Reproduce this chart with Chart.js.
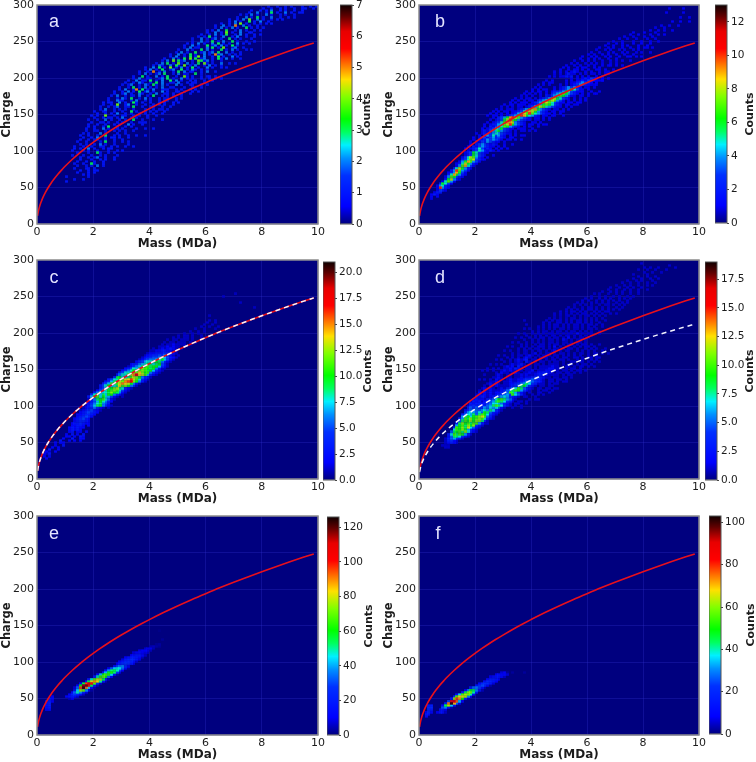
<!DOCTYPE html>
<html>
<head>
<meta charset="utf-8">
<script src="https://cdn.jsdelivr.net/npm/chart.js@4/dist/chart.umd.min.js"></script>
<style>
html, body { margin: 0; padding: 0; background: #fff; }
#page { position: relative; width: 756px; height: 762px; overflow: hidden; }
canvas { position: absolute; }
</style>
</head>
<body>
<div id="page"></div>
<script>
// axis ticks
const massTicks = [0, 2, 4, 6, 8, 10]
const chargeTicks = [0, 50, 100, 150, 200, 250, 300]

// reference curves
const curveMass = [0.02, 0.05, 0.1, 0.15, 0.2, 0.3, 0.4, 0.5, 0.6, 0.75, 0.9, 1, 1.25, 1.5, 1.75, 2, 2.25, 2.5, 2.75, 3, 3.25, 3.5, 3.75, 4, 4.25, 4.5, 4.75, 5, 5.5, 6, 6.5, 7, 7.5, 8, 8.5, 9, 9.5, 9.85]
const redCharge = [11.2, 17.7, 25, 30.6, 35.4, 43.3, 50, 55.9, 61.2, 68.5, 75, 79.1, 88.4, 96.8, 104.6, 111.8, 118.6, 125, 131.1, 136.9, 142.5, 147.9, 153.1, 158.1, 163, 167.7, 172.3, 176.8, 185.4, 193.6, 201.6, 209.2, 216.5, 223.6, 230.5, 237.2, 243.7, 248.1]
const dashedChargeD = [9.5, 15, 21.4, 26.2, 30.3, 37, 42.8, 47.8, 52.3, 58.6, 64.1, 67.6, 75.6, 82.8, 89.4, 95.6, 101.4, 106.9, 112.1, 117, 121.8, 126.5, 130.9, 135.2, 139.4, 143.4, 147.3, 151.2, 158.5, 165.5, 172.4, 178.9, 185.1, 191.2, 197.1, 202.8, 208.4, 212.1]

// colour bars
const maxA = 7, maxB = 13, maxC = 21, maxD = 19, maxE = 126, maxF = 103
const barTicksA = [0, 1, 2, 3, 4, 5, 6, 7]
const barTicksB = [0, 2, 4, 6, 8, 10, 12]
const barTicksC = [0, 2.5, 5, 7.5, 10, 12.5, 15, 17.5, 20]
const barTicksD = [0, 2.5, 5, 7.5, 10, 12.5, 15, 17.5]
const barTicksE = [0, 20, 40, 60, 80, 100, 120]
const barTicksF = [0, 20, 40, 60, 80, 100]

// histogram rows: [charge bin, first mass bin (0.1 MDa), counts]. strings are base 36
const countsA = [
[57,10,'1'],[60,13,'1001'],[63,10,'1000000010'],[66,16,'101'],[69,14,'10001010'],[72,15,'1001011'],[75,13,'1000110100'],[78,14,'10010102010'],
[81,13,'100100310010'],[84,14,'1001001001'],[87,15,'1000100101001'],[90,14,'0100101200100100'],[93,12,'1000100100101000100'],[96,13,'01000100310010100'],
[99,12,'1000101001000100101'],[102,13,'1010020100101100'],[105,13,'100100100110010100100'],[108,14,'01010010201001000010'],[111,14,'1001000010300100101'],
[114,15,'100101100100100100'],[117,15,'01001020010110100100'],[120,15,'100100100300101001001'],[123,16,'101000201000100100'],[126,16,'0100110010010101001'],
[129,17,'100100201001010000100'],[132,17,'01010010300100101'],[135,18,'100100100101002010010'],[138,18,'01001101001010010001'],[141,18,'1001002010010100300100'],
[144,19,'010010110102001010001'],[147,19,'10100400100110010100'],[150,20,'01001010200101001'],[153,20,'1001100100100301001010'],[156,21,'01020010101001000100101'],
[159,22,'1001012001103001001'],[162,22,'010010400120010010010'],[165,23,'10110020100310100100'],[168,24,'0100211001020010100101'],[171,25,'100102103001020100101'],
[174,26,'1020010110200103001010'],[177,26,'0100120100210010200110100'],[180,27,'10010201030120100201001'],[183,28,'0102001503010200111001'],[186,29,'10010301020101020011000100'],
[189,30,'1012001021031020100201001'],[192,30,'01001021001030200110200101'],[195,32,'100201103010200302010010100'],[198,33,'01020011001203010020101'],
[201,34,'100301002010300100410100101'],[204,35,'01020101203001020110030100'],[207,36,'1001050102001030201100102001'],[210,37,'01020103001200301021010100'],
[213,38,'100203010401020103010020100101'],[216,40,'01021002031040102001020101'],[219,42,'10203010410201030410100200101'],[222,43,'0102040312001043120100100'],
[225,45,'100201030403012001031020100100'],[228,46,'01020010301402001030100201'],[231,47,'1002010301002010512001010100'],[234,48,'0102010030120120300201001'],
[237,50,'100201003020100301020100101'],[240,51,'01020110020301040012001'],[243,52,'100201003012020103010'],[246,53,'10102010020301010020101'],
[249,54,'0100201030102003010010010'],[252,55,'1002010120100301010001'],[255,56,'0101030100200102001001'],[258,58,'1001020103001020100101'],
[261,59,'010020104010020011'],[264,60,'10102003001020100101'],[267,62,'0102010201003010101'],[270,63,'100201050020100100'],[273,65,'1001020401001010101'],
[276,67,'01020100301020010'],[279,68,'10010204002010010101'],[282,70,'0100201030100200100101'],[285,72,'10102010020100101001'],[288,74,'0100200103010020100110'],
[291,76,'1001010200101001001'],[294,79,'01001001010010011001'],[297,82,'100100101000100101'],
[105,34,'1'],[120,38,'1'],[129,38,'1001'],[138,36,'101'],[141,41,'1001'],[147,39,'1001'],[150,37,'01001001'],[153,42,'1001'],[156,44,'101'],[159,41,'1001001'],
[162,43,'101001'],[165,43,'10100101'],[168,46,'1001'],[171,46,'100101'],[174,48,'10010'],[177,51,'1001'],[180,50,'10100101'],[183,50,'0100101'],[186,55,'1001'],
[189,55,'100101'],[192,56,'1001'],[195,59,'1001'],[198,56,'0010010101'],[201,61,'101']
]
const countsB = [
[33,4,'1'],[36,4,'101'],[39,4,'1210'],[42,5,'1220'],[45,5,'013210'],[48,5,'01a4210'],[51,6,'14521'],[54,7,'26531'],[57,8,'15741'],
[60,8,'02684210'],[63,9,'14763210'],[66,10,'25964210'],[69,10,'12496310'],[72,11,'24a7431'],[75,12,'2586421'],[78,12,'01479531'],[81,13,'12586421'],
[84,14,'14697431'],[87,14,'0235783211'],[90,15,'1358742101'],[93,15,'012365321001'],[96,16,'1236532110'],[99,16,'0102354212101'],[102,16,'1012353121010'],
[105,17,'10213432110101'],[108,17,'0102343212100'],[111,18,'10213243211010'],[114,18,'01021243432101'],[117,19,'101231342321011'],[120,20,'01024353421010'],
[123,20,'101213454321101'],[126,21,'0121345643210101'],[129,22,'10123546321101'],[132,22,'01021345764321010'],[135,23,'101224578a6432101'],[138,24,'1012357998432100'],
[141,25,'1012368a7643211'],[144,25,'01023469a87432101'],[147,29,'1012346a96542101'],[150,30,'010124587a7543210'],[153,31,'10112357986432101'],[156,33,'1012346896432101'],
[159,35,'01012357875432110'],[162,37,'10112346765321010'],[165,38,'1012347875321101'],[168,40,'102345787431010'],[171,41,'1012346865321010'],[174,43,'102134576431101'],
[177,44,'0102345764321010'],[180,45,'1012234653211'],[183,47,'01012346531101'],[186,48,'1012343421010'],[189,50,'10101234321101'],[192,51,'0101123432101'],
[195,52,'1010112132110100'],[198,54,'101012132101010'],[201,46,'10101121201010'],[204,47,'010101211010101'],[207,48,'1010101210010100'],[210,50,'10010110101001'],
[213,51,'101001011001010'],[216,52,'1001010010100101'],[219,54,'10100101010100101'],[222,55,'100101010010010'],[225,57,'1001010100100100'],[228,58,'10010100101001001'],
[231,60,'101001010010010010'],[234,61,'1001001010010100'],[237,63,'100101001010010100'],[240,64,'10010100100100101'],[243,66,'100100101000100100'],[246,67,'1001010001001001'],
[249,69,'10010001001001001'],[252,71,'100100100010010'],[255,73,'10010001001'],[258,75,'1001000100101'],[261,76,'10001000100'],[264,82,'100101001'],[267,84,'100100'],[270,86,'10010010'],
[276,90,'1001001'],[282,93,'1001'],[288,88,'100000100'],[294,89,'10000100'],
[102,29,'101'],[108,30,'1001'],[114,32,'10101'],[120,34,'1011'],[126,37,'10101'],[129,36,'11001'],[132,39,'1001'],[135,40,'101011'],[138,40,'1101'],[141,39,'10110101'],
[144,42,'10101'],[147,45,'1011001'],[150,46,'10101'],[153,48,'1011'],[156,49,'10101'],[159,52,'1010'],[162,53,'10110'],[165,54,'1011'],[168,55,'10101'],[171,57,'1010'],
[174,58,'101'],[177,60,'1011'],[180,58,'1001001'],[186,53,'10101001010'],[189,55,'10100101'],[192,55,'0101001010'],[195,58,'10101011'],[198,60,'101001'],[201,60,'1001010'],
[204,62,'101011'],[207,64,'1011'],[210,64,'101001'],[216,68,'10101'],[222,70,'101001'],[228,75,'10101'],[234,77,'101001'],[240,81,'1010'],
[147,24,'101101'],[150,25,'1010101'],[153,26,'10101'],[156,27,'101011'],[159,29,'1010101'],[162,30,'1011011'],[165,32,'101011'],[168,33,'1010101'],[171,34,'101011'],
[174,36,'10101'],[177,37,'1010101'],[180,38,'101011'],[183,40,'101011'],[186,41,'1010'],[189,42,'10101'],[192,44,'1011'],[195,45,'101']
]
const countsC = [
[27,3,'2'],[30,2,'202'],[33,2,'2130'],[36,3,'2102'],[39,4,'3002'],[42,5,'202'],[45,6,'2003'],[48,6,'2022'],[51,8,'30020202'],[54,9,'20030022'],[57,9,'02202032'],
[60,10,'2030203'],[63,11,'2302202'],[66,11,'23232'],[69,11,'2323220'],[72,12,'2233202'],[75,12,'2334322'],[78,13,'2344320'],[81,13,'234532'],[84,14,'2345420'],
[87,14,'2234432'],[90,15,'2345432'],[93,15,'123453210'],[96,16,'1234642101'],[99,17,'13579a6421'],[102,17,'124689653'],[105,18,'2357a8642'],[108,18,'1469ab8621'],
[111,18,'37ab8a8752101'],[114,19,'48a797aa6421'],[117,20,'368789ca9621'],[120,21,'2568abcb8521'],[123,22,'3579acd98421'],[126,22,'358a789ebca641'],
[129,23,'357b9bdfeda6310'],[132,24,'2479bdcfghca631'],[135,25,'35889bdegdb8421'],[138,27,'49a879bdca6431'],[141,28,'3688bcfhedb7421'],[144,29,'35889bcecab6421'],
[147,30,'2468a9bcb9a7421'],[150,31,'235879cba9a6311'],[153,32,'124679ab9aa7421'],[156,33,'2346789989a531'],[159,35,'2457889a96421'],[162,36,'12456678a7521'],
[165,37,'1234556875321'],[168,38,'1234454642101'],[171,39,'12233344321'],[174,40,'1122332211'],[177,41,'10121232101'],[180,43,'1112121101'],[183,44,'10112111101'],
[186,45,'101101110101'],[189,46,'1011011101'],[192,48,'10101101001'],[195,50,'101101001'],[198,52,'10010100'],[201,54,'100101'],[204,56,'10010001'],[207,58,'1001001'],
[210,59,'1001'],[213,60,'1001'],[216,60,'0101'],[222,61,'1'],[252,70,'1'],[249,66,'1'],[240,72,'1'],[234,77,'1']
]
const countsD = [
[42,9,'11'],[45,8,'1110'],[48,9,'12321'],[51,9,'134210'],[54,9,'1356431'],[57,10,'25887421'],[60,10,'37a8a96310'],[63,11,'589a8b7421'],[66,12,'7a9b96421'],
[69,12,'3a9b8c75210'],[72,13,'69a8b9b4210'],[75,13,'38b9a8aa6311'],[78,14,'58a9b9bb8410'],[81,14,'36a8b9aba74210'],[84,15,'68979abca5310'],[87,15,'3576858a97421'],
[90,16,'4676575985321'],[93,16,'245655676874210'],[96,17,'35454465767521'],[99,17,'1343423568a87421'],[102,18,'32332345776532101'],[105,18,'1323123568a8743101'],
[108,19,'2322134579a86521'],[111,20,'323212345676432101'],[114,20,'1212121234564a75310'],[117,21,'21212122345a8642101'],[120,21,'1021211123568a964210'],
[123,22,'1212101213457a8532101'],[126,23,'10212111123458964210'],[129,24,'1212101122345687431'],[132,24,'0112101121123456543210'],[135,25,'10211012112234454321'],
[138,26,'11210110112122344321101'],[141,26,'0121011011212112333211'],[144,27,'10211012101121122332101'],[147,28,'012121101011201112211101'],[150,28,'10112132101101011122111'],
[153,29,'012120310110101111211001'],[156,29,'1001212310101101011110101'],[159,30,'1010121031010110101101001'],[162,31,'01012123011010101101101'],[165,31,'1010101210101110101011001'],
[168,32,'01011012101011101101010'],[171,33,'1010110120101101011010101'],[174,34,'01011010110101201011001'],[177,35,'101010110101011010110100'],[180,35,'0101010111010201011010101'],
[183,36,'10100101101011010110101'],[186,37,'010101010110101101011010'],[189,37,'1001010101101021010110100'],[192,38,'01010110101101020101101'],[195,38,'100101010110101101010101'],
[198,39,'01010101101010110201011001'],[201,40,'1010110101101011010101001'],[204,41,'01010101011010110101101'],[207,42,'1010101101010110101010010'],[210,43,'01010110101011010110101'],
[213,44,'1010011010101101010010'],[216,37,'100000001010110101011010101001'],[219,46,'10101010110101010101'],[222,47,'010101101010110101010'],[225,48,'10101010101101010100101'],
[228,50,'1010110101001010110'],[231,51,'010101010110101010101'],[234,53,'10100101101010100101'],[237,54,'010101010010110101010'],[240,56,'1010010101010010101'],
[243,57,'0101001010101010010'],[246,59,'10100101010010101'],[249,60,'010010100101001010'],[252,62,'10100100101001001'],[255,65,'100101010010010'],[258,66,'0100100101001001'],
[261,68,'10010010100100'],[264,70,'10010100100101'],[267,72,'1001001001001'],[270,74,'10010100010'],[273,76,'1001001001'],[276,78,'100100100'],[279,76,'10000100'],
[282,80,'1001001'],[285,78,'1001001000100'],[288,80,'101001000001'],[291,89,'1'],[294,79,'1'],
[96,33,'1001'],[99,34,'101'],[102,35,'1001'],[105,36,'101'],[108,39,'1011'],[111,38,'1001'],[114,40,'10101'],[117,42,'11001'],[120,41,'0101101'],[123,43,'1011011'],
[126,43,'11011'],[129,42,'011010110'],[132,46,'1101011'],[135,45,'01101101'],[138,49,'101101'],[141,48,'1101011'],[144,50,'10110101'],[147,52,'101011010'],[150,51,'0101101'],
[153,53,'1010110101'],[156,54,'10101101'],[159,55,'1011010101'],[162,56,'101001010'],[165,56,'1010110110'],[168,55,'101001011'],[171,58,'1010110101'],[174,58,'10101001'],
[177,59,'101010010'],[180,60,'1010'],[183,59,'101001'],
[135,21,'101'],[141,23,'1'],[147,22,'101010'],[150,24,'1010'],[156,25,'1010'],[162,27,'101'],[168,28,'1010'],[174,30,'1010'],[180,31,'101'],[186,33,'101'],[192,34,'101'],
[198,35,'1010'],[204,37,'101'],[210,38,'1']
]
const countsE = [
[33,3,[12,14]],[36,3,[14,18]],[39,3,[16,20]],[42,3,[18,22]],[45,3,[16,22,10]],[48,4,[20,14]],[51,5,[10]],
[48,11,[6,10]],[51,10,[12,16,18,14,8]],[54,11,[10,22,28,24,14,6]],[57,12,[14,34,48,38,22,8]],[60,13,[15,45,75,70,38,12,3]],
[63,13,[8,35,95,122,90,45,15,4]],[66,14,[12,60,115,118,100,55,18,5]],[69,15,[15,55,95,108,100,68,25,6]],[72,17,[20,55,80,90,82,50,18,4]],
[75,18,[18,48,68,78,76,55,22,5]],[78,20,[20,50,65,70,62,35,10]],[81,21,[15,42,60,66,64,45,15,3]],[84,23,[18,42,58,62,52,28,8]],
[87,24,[14,38,52,56,48,30,10]],[90,25,[10,32,44,48,46,34,12,3]],[93,27,[16,30,36,38,26,10]],[96,28,[10,20,26,28,26,18,8]],
[99,29,[10,18,24,26,22,14,6]],[102,30,[8,18,22,24,22,16,8]],[105,31,[10,16,20,20,18,12,5]],[108,33,[10,14,18,18,12,6]],[111,34,[8,12,14,10,8,6]],
[114,36,[8,10,10,8,5]],[117,38,[6,8,8,4]],[120,40,[4,5,3,2]],[123,42,[2,3]],[129,44,[2]],[141,43,[1]]
]
const countsF = [
[24,2,[10]],[27,2,[16,12]],[30,2,[10,20,10]],[33,3,[20,16]],[36,3,[20,20]],[39,3,[16,16]],
[30,6,[8,14,12,5]],[33,7,[12,14,8]],[36,8,[25,30,12,3]],[39,8,[10,45,62,35,12]],[42,9,[18,75,100,70,28,8]],[45,10,[25,85,90,75,35,10]],
[48,11,[15,60,78,72,50,18,4]],[51,12,[20,55,68,66,62,30,8]],[54,13,[12,35,55,62,58,40,12]],[57,15,[20,45,60,58,40,15]],[60,16,[10,30,48,45,30,15,4]],
[63,18,[15,28,30,24,12,4]],[66,20,[12,22,25,20,10,3]],[69,21,[10,20,22,20,14,6]],[72,23,[12,20,18,14,8]],[75,24,[10,16,16,14,8]],[78,25,[8,12,14,14,10,5]],
[81,27,[8,12,10,10,6]],[84,29,[6,8,2,0,2,0,0,0,2]]
]

const NAVY = '#00007f'
const jetStops = [
    [0, 0, 0, 127], [0.08, 0, 0, 255], [0.22, 0, 48, 255], [0.30, 0, 144, 255], [0.36, 0, 240, 255], [0.42, 0, 255, 96],
    [0.48, 0, 255, 0], [0.58, 128, 255, 0], [0.66, 255, 224, 0], [0.72, 255, 128, 0], [0.80, 255, 0, 0], [0.88, 232, 0, 0],
    [0.95, 96, 0, 0], [1, 16, 0, 0]
]

function jet(t) {
    t = Math.min(1, Math.max(0, t))
    for (let i = 1; i < jetStops.length; i++) {
        const a = jetStops[i - 1], b = jetStops[i]
        if (t <= b[0]) {
            const f = (t - a[0]) / (b[0] - a[0])
            return 'rgb(' + [1, 2, 3].map(k => Math.round(a[k] + (b[k] - a[k]) * f)).join(',') + ')'
        }
    }
    return 'rgb(16,0,0)'
}

// little image used as the point style of a histogram cell
const cellImages = {}
function cellImage(color) {
    if (!cellImages[color]) {
        const c = document.createElement('canvas')
        c.width = 3
        c.height = 3
        const g = c.getContext('2d')
        g.fillStyle = color
        g.fillRect(0.08, 0.4, 2.84, 2.2)
        cellImages[color] = c
    }
    return cellImages[color]
}

function toCells(rows) {
    const cells = []
    rows.forEach(([charge, start, counts]) => {
        const values = typeof counts === 'string' ? counts.split('').map(ch => parseInt(ch, 36)) : counts
        values.forEach((v, i) => {
            if (v > 0) cells.push({ x: (start + i) / 10 + 0.05, y: charge + 1.5, v: v })
        })
    })
    return cells.sort((p, q) => p.v - q.v)
}

function zip(xs, ys) {
    return xs.map((x, i) => ({ x: x, y: ys[i] }))
}

const page = document.getElementById('page')
function addCanvas(left, top, width, height) {
    const c = document.createElement('canvas')
    c.width = width
    c.height = height
    c.style.left = left + 'px'
    c.style.top = top + 'px'
    c.style.width = width + 'px'
    c.style.height = height + 'px'
    page.appendChild(c)
    return c
}

const tickFont = { family: '"DejaVu Sans"', size: 11 }
const barTickFont = { family: '"DejaVu Sans"', size: 10.5 }
const titleFont = { family: '"DejaVu Sans"', size: 12, weight: 'bold' }
const chargeFont = { family: '"DejaVu Sans"', size: 11.5, weight: 'bold' }
const textColor = '#1c1c1c'
const gridColor = 'rgba(50,50,210,0.3)'

function fixBox(axis, key, size) {
    axis[key] = size
    axis.paddingTop = axis.paddingBottom = axis.paddingLeft = axis.paddingRight = 0
}

function drawHeatPanel(p) {
    const leftRoom = 37, rightRoom = 12, topRoom = 8, bottomRoom = 27
    const plotW = p.right - p.left, plotH = p.bottom - p.top
    const canvas = addCanvas(p.left - leftRoom, p.top - topRoom, leftRoom + plotW + rightRoom, topRoom + plotH + bottomRoom)
    const panelPlugin = {
        id: 'panelPlugin',
        beforeDraw(chart) {
            const a = chart.chartArea
            chart.ctx.fillStyle = NAVY
            chart.ctx.fillRect(a.left, a.top, a.width, a.height)
        },
        afterDraw(chart) {
            const a = chart.chartArea, ctx = chart.ctx
            ctx.save()
            ctx.strokeStyle = '#8c8c8c'
            ctx.lineWidth = 1.5
            ctx.strokeRect(a.left, a.top, a.width, a.height)
            ctx.fillStyle = '#e4e4ff'
            ctx.font = '18px "Liberation Sans"'
            ctx.textAlign = 'center'
            ctx.textBaseline = 'alphabetic'
            ctx.fillText(p.letter, a.left + p.letterX, a.top + p.letterY)
            ctx.restore()
        }
    }
    const datasets = [{
        data: toCells(p.rows),
        order: 3,
        parsing: false,
        pointRadius: 2,
        pointBorderWidth: 0,
        pointStyle: ctx => cellImage(jet(ctx.raw.v / p.max))
    }, {
        data: zip(curveMass, redCharge),
        order: 2,
        showLine: true,
        pointRadius: 0,
        borderColor: '#e8101c',
        borderWidth: 1.6,
        cubicInterpolationMode: 'monotone'
    }]
    if (p.dashed) {
        datasets.push({
            data: zip(curveMass, p.dashed),
            order: 1,
            showLine: true,
            pointRadius: 0,
            borderColor: '#f4f4ff',
            borderWidth: 1.5,
            borderDash: [5, 4],
            cubicInterpolationMode: 'monotone'
        })
    }
    new Chart(canvas, {
        type: 'scatter',
        data: { datasets: datasets },
        plugins: [panelPlugin],
        options: {
            responsive: false,
            animation: false,
            events: [],
            devicePixelRatio: 1,
            layout: { padding: { left: 0, top: topRoom, right: rightRoom, bottom: 0 } },
            plugins: { legend: { display: false }, tooltip: { enabled: false } },
            scales: {
                x: {
                    type: 'linear', min: 0, max: 10,
                    afterBuildTicks: axis => { axis.ticks = massTicks.map(v => ({ value: v })) },
                    afterFit: axis => fixBox(axis, 'height', bottomRoom),
                    border: { display: false },
                    grid: { color: gridColor, lineWidth: 1, drawTicks: false },
                    ticks: { font: tickFont, color: textColor, padding: 2, maxRotation: 0, autoSkip: false },
                    title: { display: true, text: 'Mass (MDa)', font: titleFont, color: textColor, padding: 0 }
                },
                y: {
                    type: 'linear', min: 0, max: 300,
                    afterBuildTicks: axis => { axis.ticks = chargeTicks.map(v => ({ value: v })) },
                    afterFit: axis => fixBox(axis, 'width', leftRoom),
                    border: { display: false },
                    grid: { color: gridColor, lineWidth: 1, drawTicks: false },
                    ticks: { font: tickFont, color: textColor, padding: 3, autoSkip: false },
                    title: { display: true, text: 'Charge', font: chargeFont, color: textColor, padding: 0 }
                }
            }
        }
    })
}

function drawColorBar(p) {
    const b = p.bar
    const topRoom = 8, bottomRoom = 8
    const plotH = b.bottom - b.top
    const canvas = addCanvas(b.left, b.top - topRoom, b.edge - b.left, topRoom + plotH + bottomRoom)
    const barPlugin = {
        id: 'barPlugin',
        afterDraw(chart) {
            const a = chart.chartArea, ctx = chart.ctx
            ctx.save()
            ctx.strokeStyle = '#555'
            ctx.lineWidth = 1
            ctx.strokeRect(a.left, a.top, a.width, a.height)
            ctx.translate(b.titleX - b.left, a.top + a.height / 2)
            ctx.rotate(-Math.PI / 2)
            ctx.fillStyle = textColor
            ctx.font = 'bold 11px "DejaVu Sans"'
            ctx.textAlign = 'center'
            ctx.textBaseline = 'middle'
            ctx.fillText('Counts', 0, 0)
            ctx.restore()
        }
    }
    const barWidth = b.right - b.left
    new Chart(canvas, {
        type: 'bar',
        data: {
            labels: [''],
            datasets: [{
                data: [[0, p.max]],
                barPercentage: 1,
                categoryPercentage: 1,
                backgroundColor(ctx) {
                    const a = ctx.chart.chartArea
                    if (!a) return NAVY
                    const g = ctx.chart.ctx.createLinearGradient(0, a.bottom, 0, a.top)
                    jetStops.forEach(s => g.addColorStop(s[0], jet(s[0])))
                    return g
                }
            }]
        },
        plugins: [barPlugin],
        options: {
            responsive: false,
            animation: false,
            events: [],
            devicePixelRatio: 1,
            layout: { padding: { left: 0, top: topRoom, right: 0, bottom: bottomRoom } },
            plugins: { legend: { display: false }, tooltip: { enabled: false } },
            scales: {
                x: { display: false },
                y: {
                    type: 'linear', position: 'right', min: 0, max: p.max,
                    afterBuildTicks: axis => { axis.ticks = p.barTicks.map(v => ({ value: v })) },
                    afterFit: axis => fixBox(axis, 'width', (b.edge - b.left) - barWidth),
                    border: { display: false },
                    grid: { drawOnChartArea: false, tickLength: 2, color: '#444' },
                    ticks: {
                        font: barTickFont, color: textColor, padding: 2, autoSkip: false,
                        callback: v => p.oneDecimal ? v.toFixed(1) : String(v)
                    }
                }
            }
        }
    })
}

const panels = [
    { letter: 'a', rows: countsA, max: maxA, barTicks: barTicksA, left: 37, right: 318, top: 5, bottom: 224, letterX: 17, letterY: 22,
      bar: { left: 340, right: 352, top: 5, bottom: 224, edge: 378, titleX: 367.5 } },
    { letter: 'b', rows: countsB, max: maxB, barTicks: barTicksB, left: 419, right: 699, top: 5, bottom: 224, letterX: 21, letterY: 22,
      bar: { left: 715, right: 727, top: 5, bottom: 223, edge: 756, titleX: 750.5 } },
    { letter: 'c', rows: countsC, max: maxC, barTicks: barTicksC, oneDecimal: true, dashed: redCharge, left: 37, right: 318, top: 260, bottom: 479, letterX: 17, letterY: 23,
      bar: { left: 323, right: 335, top: 262, bottom: 480, edge: 378, titleX: 368 } },
    { letter: 'd', rows: countsD, max: maxD, barTicks: barTicksD, oneDecimal: true, dashed: dashedChargeD, left: 419, right: 699, top: 260, bottom: 479, letterX: 21, letterY: 23,
      bar: { left: 705, right: 717, top: 262, bottom: 480, edge: 756, titleX: 750 } },
    { letter: 'e', rows: countsE, max: maxE, barTicks: barTicksE, left: 37, right: 318, top: 516, bottom: 735, letterX: 17, letterY: 23,
      bar: { left: 327, right: 339, top: 517, bottom: 735, edge: 378, titleX: 369 } },
    { letter: 'f', rows: countsF, max: maxF, barTicks: barTicksF, left: 419, right: 699, top: 516, bottom: 735, letterX: 19, letterY: 23,
      bar: { left: 709, right: 721, top: 516, bottom: 734, edge: 756, titleX: 751 } }
]

panels.forEach(p => {
    drawHeatPanel(p)
    drawColorBar(p)
})
</script>
</body>
</html>
